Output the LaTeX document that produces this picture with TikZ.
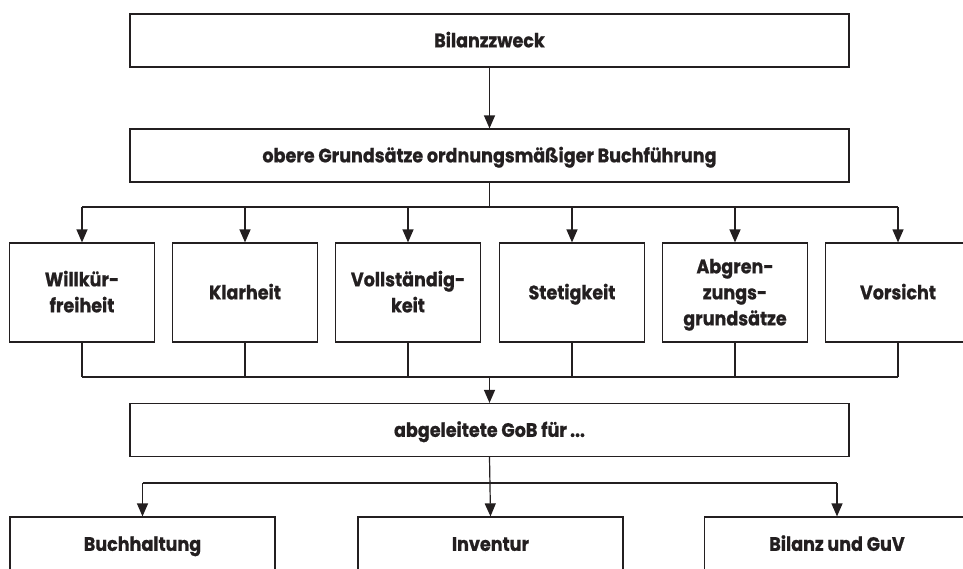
\documentclass[tikz,border=0pt]{standalone}
\usepackage{fontspec}
\setmainfont{Poppins}[FakeStretch=0.9,BoldFeatures={FakeBold=0.8}]
\usetikzlibrary{arrows.meta}
\definecolor{ink}{HTML}{231F20}
% one text line whose box is symmetric about the middle of its capitals
\newcommand\capln[1]{\rule[-6pt]{0pt}{\dimexpr\fontcharht\font`H+12pt\relax}#1}
\begin{document}
\begin{tikzpicture}[x=1pt,y=-1pt,
  line/.style={draw=ink,line width=1.2pt},
  arr/.style={line,-{Triangle[length=13pt,width=11pt]}},
  box/.style={line,rectangle,inner sep=0pt,align=center,text=ink,
    font=\fontsize{19.5}{26}\selectfont\bfseries},
  wide/.style={box,minimum width=719pt,minimum height=53pt},
  pillar/.style={box,minimum width=145pt,minimum height=99pt},
  area/.style={box,minimum width=265pt,minimum height=54pt}]
\clip (0,0) rectangle (963,568);
\fill[white] (0,0) rectangle (963,568);

% top chain
\node[wide] (zweck) at (489.5,40.5) {\capln{Bilanzzweck}};
\node[wide] (obere) at (489.5,155.5) {\capln{obere Grundsätze ordnungsmäßiger Buchführung}};

% the six principles
\node[pillar] (p1) at (82,292.5)  {\capln{Willkür-}\\\capln{freiheit}};
\node[pillar] (p2) at (245,292.5) {\capln{Klarheit}};
\node[pillar] (p3) at (408,292.5) {\capln{Vollständig-}\\\capln{keit}};
\node[pillar] (p4) at (572,292.5) {\capln{Stetigkeit}};
\node[pillar] (p5) at (735,292.5) {\capln{Abgren-}\\\capln{zungs-}\\\capln{grundsätze}};
\node[pillar] (p6) at (898,292.5) {\capln{Vorsicht}};

\node[wide] (abg) at (489.5,430) {\capln{abgeleitete GoB für\,...}};

% application areas
\node[area] (b1) at (142.5,544) {\capln{Buchhaltung}};
\node[area] (b2) at (490.5,544) {\capln{Inventur}};
\node[area] (b3) at (837,544)   {\capln{Bilanz und GuV}};

% bus lines
\coordinate (busA) at (489.5,207);
\coordinate (busB) at (489.5,377);
\coordinate (busC) at (489.5,483);

\draw[arr] (zweck) -- (obere);

\draw[line] (obere.south) -- (busA);
\draw[line] (p1.north |- busA) -- (p6.north |- busA);
\foreach \n in {p1,p2,p3,p4,p5,p6}
  \draw[arr] (\n.north |- busA) -- (\n.north);

\foreach \n in {p1,p2,p3,p4,p5,p6}
  \draw[line] (\n.south) -- (\n.south |- busB);
\draw[line] (p1.south |- busB) -- (p6.south |- busB);
\draw[arr] (busB) -- (abg.north);

\draw[arr] (abg.south) -- (b2.north);
\draw[line] (b1.north |- busC) -- (b3.north |- busC);
\draw[arr] (b1.north |- busC) -- (b1.north);
\draw[arr] (b3.north |- busC) -- (b3.north);
\end{tikzpicture}
\end{document}
